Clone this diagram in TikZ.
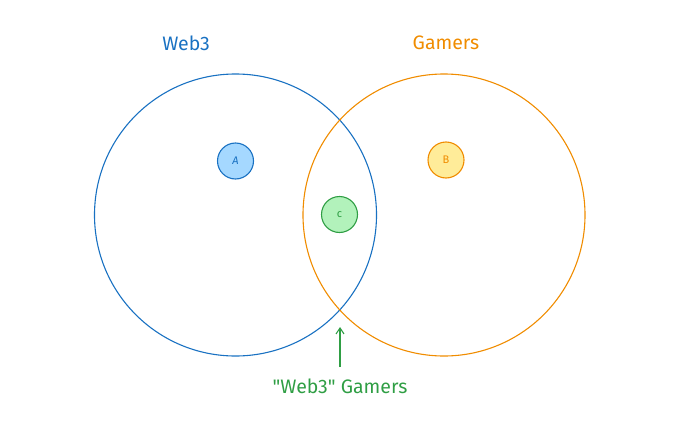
\documentclass[tikz,border=0pt]{standalone}
\usepackage{fontspec}
\setmainfont{Fira Sans}
\newfontfamily\plainfira{Fira Sans}
\usetikzlibrary{arrows.meta}
\definecolor{cblue}{HTML}{1971C2}
\definecolor{corange}{HTML}{F08C00}
\definecolor{cgreen}{HTML}{2F9E44}
\definecolor{fblue}{HTML}{A5D8FF}
\definecolor{fyellow}{HTML}{FFEC99}
\definecolor{fgreen}{HTML}{B2F2BB}
\tikzset{
  bigset/.style={draw=#1, line width=1.1pt, circle, minimum size=282pt, inner sep=0pt},
  dot/.style={circle, draw=#1, line width=1.1pt, minimum size=36pt, inner sep=0pt, font=\fontsize{11}{12}\selectfont, text=#1},
  setlabel/.style={font=\plainfira\fontsize{19.5}{22}\selectfont, text=#1},
}
\begin{document}
\begin{tikzpicture}[x=1pt,y=-1pt]
\useasboundingbox (0,0) rectangle (680,439);
\node[bigset=cblue] (web3) at (235.5,215) {};
\node[bigset=corange] (gamers) at (444,215) {};
\node[dot=cblue, fill=fblue] (a) at (235.5,161) {\textit{A}};
\node[dot=corange, fill=fyellow] (b) at (446,160) {B};
\node[dot=cgreen, fill=fgreen] (c) at (339.5,214.5) {c};
\node[setlabel=cblue] (lweb3) at (186,43) {Web3};
\node[setlabel=corange] (lgamers) at (446,43) {Gamers};
\node[setlabel=cgreen] (lboth) at (340,386) {"Web3" Gamers};
\coordinate (tip) at (340,327);
\draw[cgreen, line width=1.1pt, -{Straight Barb[length=6pt,width=8pt]}] (lboth.north) ++(0,-8) coordinate (start) -- (tip);
\end{tikzpicture}
\end{document}
